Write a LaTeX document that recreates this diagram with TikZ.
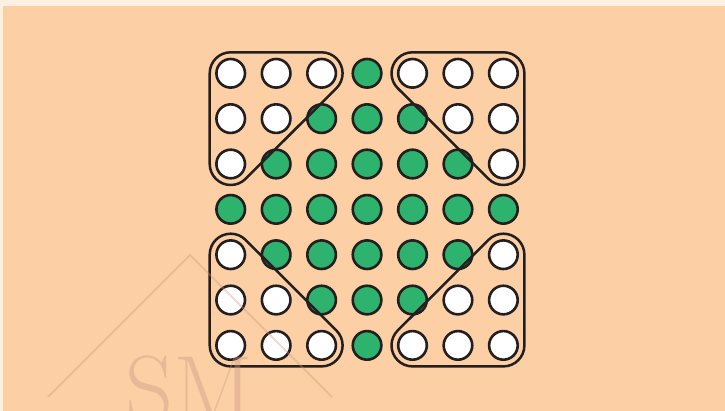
\documentclass[tikz,border=0pt]{standalone}
\usetikzlibrary{calc}
\definecolor{peach}{RGB}{252,207,164}
\definecolor{paper}{RGB}{254,240,224}
\definecolor{dotgreen}{RGB}{46,179,110}
\definecolor{ink}{RGB}{35,31,32}
\definecolor{wmark}{RGB}{205,150,130}
\tikzset{
  dot/.style={circle,draw=ink,line width=2.6pt,minimum size=28.6pt,inner sep=0pt},
  hull/.style={draw=ink,line width=2.5pt,line join=round},
  wm/.style={draw=wmark,line width=2pt,opacity=0.35}
}
\begin{document}
\begin{tikzpicture}[x=1pt,y=1pt]
\useasboundingbox (0,0) rectangle (725,-411);
\fill[paper] (0,0) rectangle (725,-411);
\fill[peach] (3,-6) rectangle (725,-411);
% circles
\foreach \i in {0,...,6}{
  \foreach \j in {0,...,6}{
    \pgfmathtruncatemacro{\d}{abs(\i-3)+abs(\j-3)}
    \ifnum\d<4 \def\fc{dotgreen}\else\def\fc{white}\fi
    \node[dot,fill=\fc] (c-\i-\j) at ({230.7+45.45*\i},{-73.3-45.35*\j}) {};
  }
}
\def\R{21pt}
% top-left
\draw[hull] ([xshift=-\R]c-0-0.center) arc[start angle=180,end angle=90,radius=\R]
  -- ([yshift=\R]c-2-0.center) arc[start angle=90,end angle=-45,radius=\R]
  -- ($(c-0-2.center)+(-45:\R)$) arc[start angle=-45,end angle=-180,radius=\R]
  -- cycle;
% top-right
\draw[hull] ($(c-4-0.center)+(225:\R)$) arc[start angle=225,end angle=90,radius=\R]
  -- ([yshift=\R]c-6-0.center) arc[start angle=90,end angle=0,radius=\R]
  -- ([xshift=\R]c-6-2.center) arc[start angle=0,end angle=-135,radius=\R]
  -- cycle;
% bottom-left
\draw[hull] ([xshift=-\R]c-0-6.center) -- ([xshift=-\R]c-0-4.center)
  arc[start angle=180,end angle=45,radius=\R]
  -- ($(c-2-6.center)+(45:\R)$) arc[start angle=45,end angle=-90,radius=\R]
  -- ([yshift=-\R]c-0-6.center) arc[start angle=-90,end angle=-180,radius=\R]
  -- cycle;
% bottom-right
\draw[hull] ($(c-6-4.center)+(135:\R)$) arc[start angle=135,end angle=0,radius=\R]
  -- ([xshift=\R]c-6-6.center) arc[start angle=0,end angle=-90,radius=\R]
  -- ([yshift=-\R]c-4-6.center) arc[start angle=-90,end angle=-225,radius=\R]
  -- cycle;
% watermark
\draw[wm] (48,-397) -- (190,-255) -- (332,-397);
\node[anchor=base,text=wmark,opacity=0.4,inner sep=0pt,font=\fontsize{94}{94}\selectfont] (wmtext) at (189,-421) {SM};
\end{tikzpicture}
\end{document}
